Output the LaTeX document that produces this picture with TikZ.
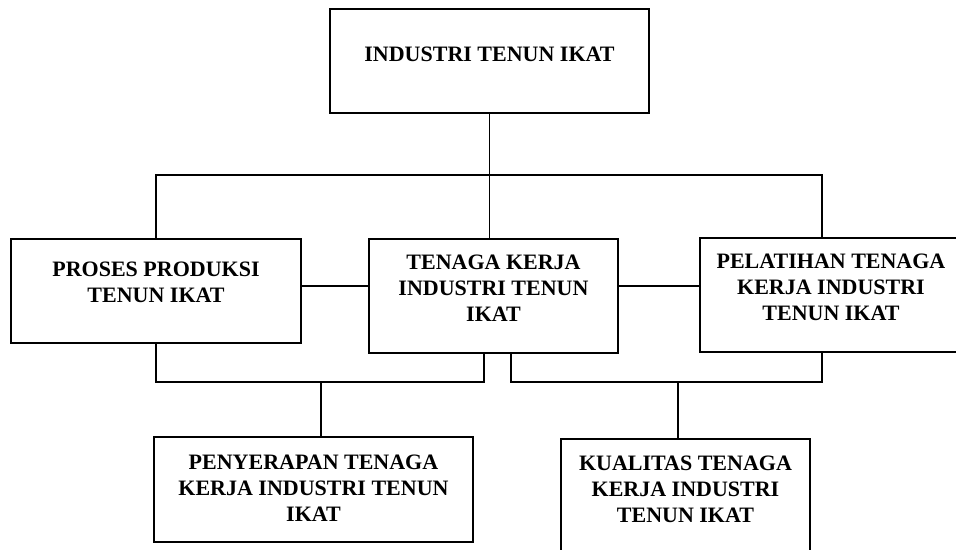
\documentclass[tikz,border=0pt]{standalone}
\usepackage{fontspec}
\setmainfont{Liberation Serif}
\usetikzlibrary{positioning}

\tikzset{
	kotak/.style={draw, line width=2pt, anchor=north west, inner sep=0pt},
	tulisan/.style={align=center, inner sep=0pt, anchor=north, font=\bfseries\fontsize{22}{26}\selectfont},
	garis/.style={line width=1.7pt}
}

\begin{document}
\begin{tikzpicture}[x=1pt, y=-1pt]
			\useasboundingbox (0,0) rectangle (956,549);
			\clip (0,0) rectangle (956,549);
			% kotak-kotak
			\node[kotak, minimum width=319pt, minimum height=104pt] (industri) at (329,8) {};
			\node[kotak, minimum width=290pt, minimum height=104pt] (proses) at (10,238) {};
			\node[kotak, minimum width=249pt, minimum height=114pt] (tenaga) at (368,238) {};
			\node[kotak, minimum width=262pt, minimum height=114pt] (pelatihan) at (699,237) {};
			\node[kotak, minimum width=319pt, minimum height=105pt] (penyerapan) at (153,436) {};
			\node[kotak, minimum width=249pt, minimum height=130pt] (kualitas) at (560,438) {};
			% tulisan
			\node[tulisan, below=39pt of industri.north] (industri-t) {INDUSTRI TENUN IKAT};
			\node[tulisan, below=24pt of proses.north] (proses-t) {PROSES PRODUKSI\\TENUN IKAT};
			\node[tulisan, below=17pt of tenaga.north] (tenaga-t) {TENAGA KERJA\\INDUSTRI TENUN\\IKAT};
			\node[tulisan, below=17pt of pelatihan.north] (pelatihan-t) {PELATIHAN TENAGA\\KERJA INDUSTRI\\TENUN IKAT};
			\node[tulisan, below=19pt of penyerapan.north] (penyerapan-t) {PENYERAPAN TENAGA\\KERJA INDUSTRI TENUN\\IKAT};
			\node[tulisan, below=18pt of kualitas.north] (kualitas-t) {KUALITAS TENAGA\\KERJA INDUSTRI\\TENUN IKAT};
			% garis penghubung
			\coordinate (atas) at (0,175);
			\coordinate (tengah) at (0,286);
			\coordinate (bawah) at (0,382);
			\draw[garis] (industri.south) -- (industri.south |- tenaga.north);
			\draw[garis] (proses.north) |- ([xshift=-9pt]pelatihan.north |- atas) -- ([xshift=-9pt]pelatihan.north);
			\draw[garis] (proses.east |- tengah) -- (tenaga.west |- tengah);
			\draw[garis] (tenaga.east |- tengah) -- (pelatihan.west |- tengah);
			\draw[garis] (proses.south) |- ([xshift=-9.5pt]tenaga.south |- bawah) -- ([xshift=-9.5pt]tenaga.south);
			\draw[garis] ([xshift=17.5pt]tenaga.south) |- ([xshift=-9pt]pelatihan.south |- bawah) -- ([xshift=-9pt]pelatihan.south);
			\draw[garis] ([xshift=7.5pt]penyerapan.north |- bawah) -- ([xshift=7.5pt]penyerapan.north);
			\draw[garis] ([xshift=-7.5pt]kualitas.north |- bawah) -- ([xshift=-7.5pt]kualitas.north);
		\end{tikzpicture}
\end{document}
